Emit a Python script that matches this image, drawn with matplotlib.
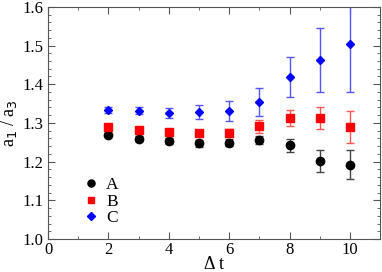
import matplotlib
matplotlib.use("Agg")
import matplotlib.pyplot as plt
from matplotlib.ticker import MultipleLocator
from matplotlib.lines import Line2D

x = [2, 3, 4, 5, 6, 7, 8, 9, 10]
A = [1.270, 1.259, 1.253, 1.247, 1.249, 1.256, 1.242, 1.202, 1.192]
A_err = [0.005, 0.006, 0.007, 0.008, 0.009, 0.010, 0.017, 0.028, 0.038]
B = [1.290, 1.283, 1.277, 1.273, 1.275, 1.291, 1.312, 1.313, 1.290]
B_err = [0.005, 0.006, 0.007, 0.008, 0.010, 0.016, 0.021, 0.029, 0.042]
C = [1.333, 1.332, 1.326, 1.328, 1.331, 1.355, 1.418, 1.463, 1.504]
C_err = [0.008, 0.008, 0.012, 0.019, 0.025, 0.036, 0.052, 0.082, 0.124]
labels = ["A", "B", "C"]

plt.rcParams['font.family'] = ['Liberation Serif', 'DejaVu Serif']
fig = plt.figure(figsize=(3.82, 2.72), dpi=100)
ax = fig.add_axes([0.126, 0.121, 0.869, 0.854])

styles = [('o', 'black', '#444444', 6), ('s', 'red', '#ff5555', 5.5), ('D', 'blue', '#5555ff', 4.5)]
handles = []
for (m, c, ec, ms), y, e, lab in zip(styles, [A, B, C], [A_err, B_err, C_err], labels):
    ax.errorbar(x, y, yerr=e, fmt=m, color=c, ecolor=ec, ms=ms,
                capsize=3, elinewidth=1, capthick=1)
    handles.append(Line2D([], [], ls='none', marker=m, color=c, ms=ms * 0.85, label=lab))

ax.set_xlim(0, 11)
ax.set_ylim(1.0, 1.6)
ax.xaxis.set_major_locator(MultipleLocator(2))
ax.xaxis.set_minor_locator(MultipleLocator(1))
ax.yaxis.set_minor_locator(MultipleLocator(0.02))
ax.tick_params(which='both', direction='in', top=True, right=True, labelsize=12,
               color='#555555')
ax.tick_params(which='major', length=5)
ax.tick_params(which='minor', length=2.5)
ax.tick_params(axis='x', pad=2)
ax.set_yticks([1.0, 1.1, 1.2, 1.3, 1.4, 1.5, 1.6])
ax.set_yticklabels(['1.0', '1.1', '1.2', '1.3', '1.4', '1.5', '1.6'])
for s in ax.spines.values():
    s.set_color('#555555')
ax.set_ylabel(r'a$_1$ / a$_3$', fontsize=13, labelpad=2)
ax.set_xlabel('\u0394 t', fontsize=13, labelpad=-1)

ax.legend(handles=handles, loc='lower left', bbox_to_anchor=(0.065, 0.005), frameon=False,
          fontsize=12.5, handletextpad=0.4, labelspacing=0.0, handlelength=1.0,
          borderpad=0.2)

fig.savefig('out.png', dpi=100)
